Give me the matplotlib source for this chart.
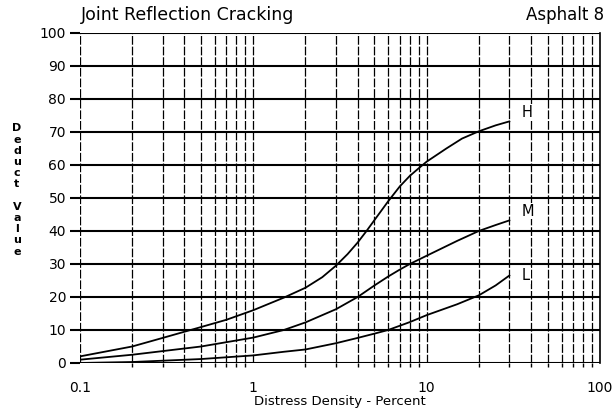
import matplotlib
matplotlib.use("Agg")
import matplotlib.pyplot as plt
import numpy as np

plt.rcParams['font.family'] = ['DejaVu Sans']

# Data
h_x = [0.1, 0.2, 0.3, 0.5, 0.7, 1, 1.5, 2, 2.5, 3, 3.5, 4, 4.5, 5, 6, 7, 8, 9, 10, 13, 16, 20, 25, 30]
h_y = [2, 5, 7.6, 10.9, 13.1, 16, 19.8, 22.8, 26, 29.5, 33, 36.5, 40, 43.3, 49, 53.5, 56.7, 59, 61, 65, 68, 70.2, 72, 73.2]
m_x = [0.1, 0.2, 0.5, 1, 1.5, 2, 3, 4, 5, 6, 7, 8, 10, 15, 20, 25, 30]
m_y = [1, 2.5, 5, 7.7, 10, 12.3, 16.3, 20, 23.5, 26.2, 28.3, 30, 32.5, 37, 40, 41.8, 43.2]
l_x = [0.1, 0.2, 0.5, 1, 1.5, 2, 3, 4, 5, 6, 8, 10, 15, 20, 25, 30]
l_y = [0, 0.3, 1.2, 2.3, 3.4, 4.1, 6, 7.6, 8.9, 10, 12.4, 14.5, 17.8, 20.5, 23.5, 26.5]
curve_labels = ['H', 'M', 'L']
label_y = [76, 46, 26.5]
x_ticks = [0.1, 1, 10, 100]
x_tick_labels = ['0.1', '1', '10', '100']
y_ticks = list(range(0, 101, 10))

fig = plt.figure(figsize=(6.15, 4.17), dpi=100)
ax = fig.add_axes([0.130, 0.1295, 0.8456, 0.7915])
ax.set_xscale('log')
ax.set_xlim(0.1, 100)
ax.set_ylim(0, 100)

# vertical dashed grid at every log position
vx = []
for dec in [0.1, 1, 10]:
    for k in range(1, 10):
        vx.append(dec * k)
vx.append(100)
for v in vx:
    ax.axvline(v, color='black', lw=0.9, ls=(0, (7, 1.5)), zorder=1)

for yv in y_ticks:
    ax.axhline(yv, color='black', lw=1.5, zorder=2)

for xs, ys in [(h_x, h_y), (m_x, m_y), (l_x, l_y)]:
    ax.plot(xs, ys, color='black', lw=1.3, zorder=3)
for lab, ly in zip(curve_labels, label_y):
    ax.text(35.5, ly, lab, fontsize=10.5, ha='left', va='center',
            bbox=dict(facecolor='white', edgecolor='none', pad=0.5), zorder=4)

for s in ['left', 'bottom', 'top']:
    ax.spines[s].set_visible(False)
ax.spines['right'].set_linewidth(1.2)

ax.set_yticks(y_ticks)
ax.set_yticklabels([str(v) for v in y_ticks], fontsize=10)
ax.tick_params(axis='y', length=7, width=1.5, pad=3)
ax.set_xticks(x_ticks)
ax.set_xticklabels(x_tick_labels, fontsize=10)
ax.tick_params(axis='x', which='major', length=0, pad=13)
ax.tick_params(axis='x', which='minor', length=3, width=1, labelbottom=False)

ax.set_xlabel('Distress Density - Percent', fontsize=9.5)
ax.xaxis.set_label_coords(0.5, -0.098)

fig.text(81 / 615, 1 - 15 / 417, 'Joint Reflection Cracking', fontsize=12.5,
         ha='left', va='center')
fig.text(604 / 615, 1 - 15 / 417, 'Asphalt 8', fontsize=12,
         ha='right', va='center')
fig.text(17 / 615, 1 - 190 / 417, 'D\ne\nd\nu\nc\nt\n\nV\na\nl\nu\ne',
         fontsize=8, fontweight='bold', ha='center', va='center',
         linespacing=1.15)

fig.savefig('out.png', dpi=100)
